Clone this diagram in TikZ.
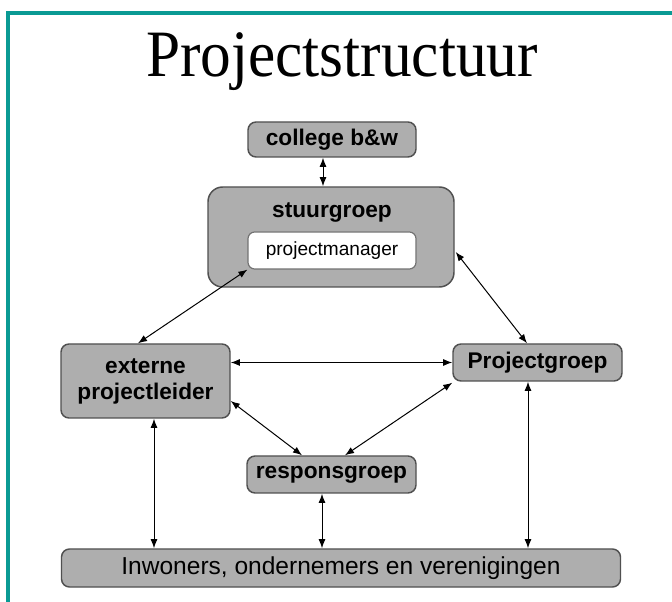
\documentclass[tikz,border=0pt]{standalone}
\usepackage{fontspec}
\setmainfont{Liberation Serif}
\setsansfont{Liberation Sans}
\usetikzlibrary{arrows.meta,calc}
\definecolor{frameteal}{RGB}{10,154,148}
\definecolor{boxfill}{RGB}{174,174,174}
\definecolor{boxline}{RGB}{80,80,80}
\tikzset{
  gbox/.style={draw=boxline, line width=1.1pt, fill=boxfill, rounded corners=6pt,
    inner sep=0pt, align=center, font=\sffamily\bfseries\fontsize{17}{19.5}\selectfont},
  wbox/.style={draw=boxline!80, line width=0.9pt, fill=white, rounded corners=5pt,
    inner sep=0pt, font=\sffamily\fontsize{14.3}{16}\selectfont},
  dbl/.style={{Latex[length=6.8pt,width=5.2pt]}-{Latex[length=6.8pt,width=5.2pt]}, line width=0.75pt, black}
}
\begin{document}
\begin{tikzpicture}[x=0.75pt,y=-0.75pt]
\useasboundingbox (0,0) rectangle (672,602);
\fill[white] (0,0) rectangle (672,602);
% frame
\draw[frameteal, line width=2.4pt] (8,602) -- (8,13) -- (672,13);
% title
\node[anchor=base, font=\fontsize{46}{50}\selectfont, inner sep=0pt, yscale=1.08] (title) at (342,77) {Projectstructuur};
% boxes
\node[gbox, minimum width=168*0.75pt, minimum height=35*0.75pt] (college) at (332,139.5) {college b\&w};
\node[gbox, rounded corners=11pt, minimum width=246*0.75pt, minimum height=100*0.75pt] (stuur) at (331,237) {};
\node[font=\sffamily\bfseries\fontsize{17}{19.5}\selectfont, inner sep=0pt] (stuurlbl) at (332,213) {stuurgroep};
\node[wbox, minimum width=168*0.75pt, minimum height=37*0.75pt] (pm) at (332,250.5) {projectmanager};
\node[gbox, minimum width=169*0.75pt, minimum height=74*0.75pt] (ext) at (145.5,381) {externe\\projectleider};
\node[gbox, minimum width=169*0.75pt, minimum height=37*0.75pt] (pg) at (537.5,362.5) {Projectgroep};
\node[gbox, minimum width=169*0.75pt, minimum height=37*0.75pt] (resp) at (331.5,474.5) {responsgroep};
\node[gbox, font=\sffamily\fontsize{18.4}{20}\selectfont, minimum width=559*0.75pt, minimum height=38*0.75pt] (inw) at (341,568) {Inwoners, ondernemers en verenigingen};
% connectors
\coordinate (cA) at ($(college.south)+(-9,0)$);
\draw[dbl] (cA) -- (cA |- stuur.north);
\draw[dbl] ($(ext.north)+(-7.5,0)$) -- (pm.south west);
\draw[dbl] ($(stuur.east)+(1,15)$) -- ($(pg.north)+(-10.5,0)$);
\draw[dbl] (pg.west -| ext.east) -- (pg.west);
\draw[dbl] ($(ext.east)+(0,20)$) -- ($(resp.north)+(-29.5,0)$);
\draw[dbl] ($(pg.south west)+(0,1)$) -- ($(resp.north)+(13.5,0)$);
\coordinate (cB) at ($(ext.south)+(8.5,0)$);
\draw[dbl] (cB) -- (cB |- inw.north);
\coordinate (cC) at ($(resp.south)+(-9.5,0)$);
\draw[dbl] (cC) -- (cC |- inw.north);
\coordinate (cD) at ($(pg.south)+(-9.5,0)$);
\draw[dbl] (cD) -- (cD |- inw.north);
\end{tikzpicture}
\end{document}
